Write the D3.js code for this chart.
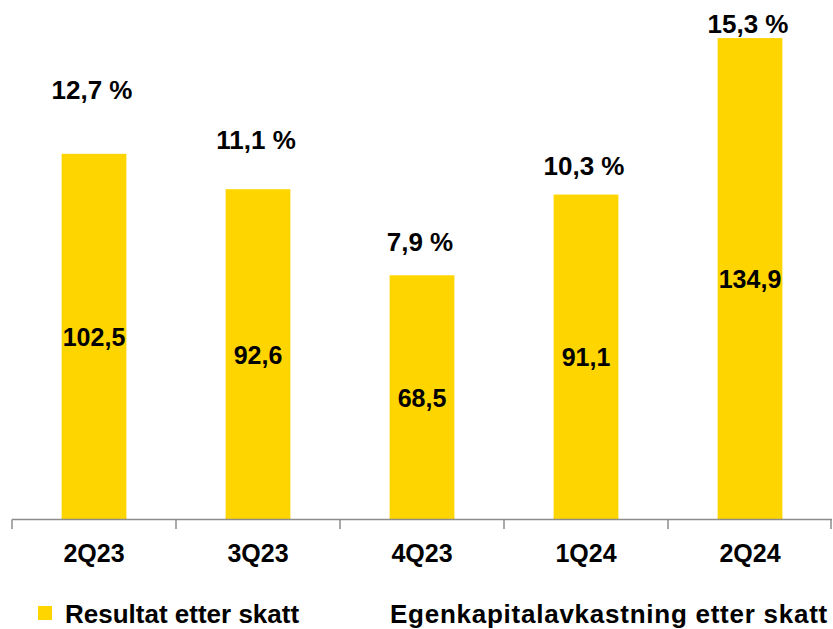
<!DOCTYPE html>
<html>
<head>
<meta charset="utf-8">
<script src="https://cdn.jsdelivr.net/npm/d3@7"></script>
<style>
  body { margin: 0; background: #fff; }
  text { font-family: "Liberation Sans", Arial, sans-serif; font-weight: bold; fill: #000; }
</style>
</head>
<body>
<div class="chart"></div>
<script>
// data
var quarters = ["2Q23", "3Q23", "4Q23", "1Q24", "2Q24"];
var resultat = [102.5, 92.6, 68.5, 91.1, 134.9];
var egenkapital = [12.7, 11.1, 7.9, 10.3, 15.3];
var legendLabels = ["Resultat etter skatt", "Egenkapitalavkastning etter skatt"];

var svgWidth = 833;
var svgHeight = 629;
var barColor = "#FFD500";

var svg = d3.select(".chart")
  .append("svg")
  .attr("width", svgWidth)
  .attr("height", svgHeight);

var fmt = function(v) { return d3.format(".1f")(v).replace(".", ","); };

// scales
var x = d3.scaleBand()
  .domain(quarters)
  .range([12, 832])
  .padding(0);

var y = d3.scaleLinear()
  .domain([0, 145])
  .range([520, 2]);

// secondary axis for the return labels (line itself is not drawn)
var y2 = d3.scaleLinear()
  .domain([0, 16])
  .range([501, -5.7]);

var barW = x.bandwidth() * 0.395;

// bars
svg.selectAll("rect.bar")
  .data(resultat)
  .enter()
  .append("rect")
  .attr("class", "bar")
  .attr("x", (d, i) => x(quarters[i]) + (x.bandwidth() - barW) / 2)
  .attr("y", d => y(d))
  .attr("width", barW)
  .attr("height", d => y(0) - y(d))
  .attr("fill", barColor);

// values inside bars
svg.selectAll("text.val")
  .data(resultat)
  .enter()
  .append("text")
  .attr("class", "val")
  .attr("x", (d, i) => x(quarters[i]) + x.bandwidth() / 2)
  .attr("y", d => (y(d) + y(0)) / 2 + 9)
  .attr("text-anchor", "middle")
  .style("font-size", "25px")
  .text(d => fmt(d));

// percent labels, kept inside the chart at the top
svg.selectAll("text.pct")
  .data(egenkapital)
  .enter()
  .append("text")
  .attr("class", "pct")
  .attr("x", (d, i) => x(quarters[i]) + x.bandwidth() / 2 - 2)
  .attr("y", d => Math.max(y2(d), 33))
  .attr("text-anchor", "middle")
  .style("font-size", "26px")
  .text(d => fmt(d) + " %");

// x axis
var axis = svg.append("g");
axis.append("line")
  .attr("x1", x.range()[0])
  .attr("x2", x.range()[1])
  .attr("y1", y(0) - 0.5)
  .attr("y2", y(0) - 0.5)
  .attr("stroke", "#8c8c8c")
  .attr("stroke-width", 1.5);

var edges = quarters.map(q => x(q)).concat([x.range()[1]]);
axis.selectAll("line.tick")
  .data(edges)
  .enter()
  .append("line")
  .attr("class", "tick")
  .attr("x1", d => Math.min(d, 831))
  .attr("x2", d => Math.min(d, 831))
  .attr("y1", y(0) - 0.5)
  .attr("y2", y(0) + 9)
  .attr("stroke", "#8c8c8c")
  .attr("stroke-width", 1.5);

axis.selectAll("text.cat")
  .data(quarters)
  .enter()
  .append("text")
  .attr("class", "cat")
  .attr("x", d => x(d) + x.bandwidth() / 2)
  .attr("y", 562)
  .attr("text-anchor", "middle")
  .style("font-size", "25px")
  .text(d => d);

// legend
var legend = svg.append("g");
legend.append("rect")
  .attr("x", 38)
  .attr("y", 606)
  .attr("width", 14)
  .attr("height", 14)
  .attr("fill", barColor);
legend.append("text")
  .attr("x", 65)
  .attr("y", 623)
  .style("font-size", "26px")
  .text(legendLabels[0]);
legend.append("text")
  .attr("x", 390)
  .attr("y", 623)
  .style("font-size", "26px")
  .style("letter-spacing", "0.75px")
  .text(legendLabels[1]);
</script>
</body>
</html>
